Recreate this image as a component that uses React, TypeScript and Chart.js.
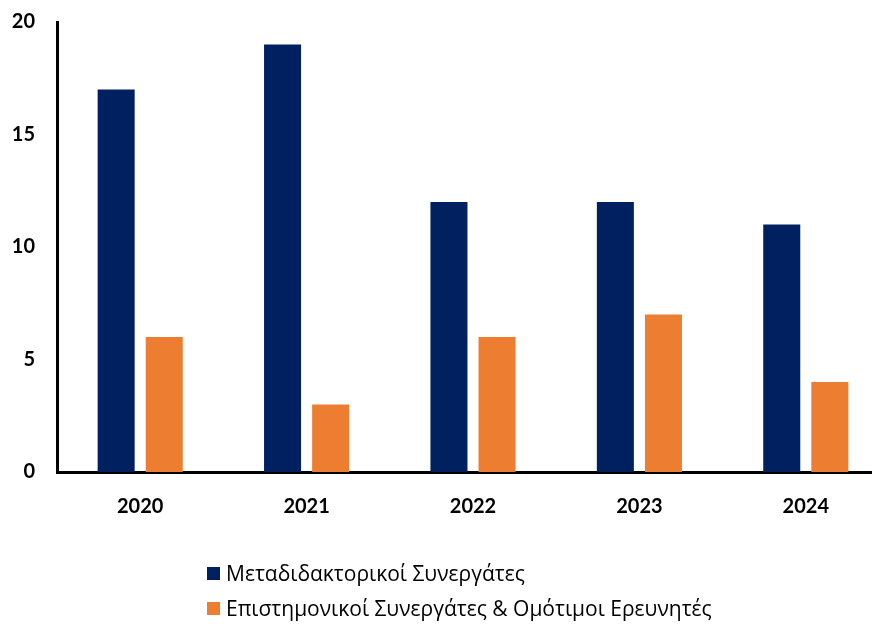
import React, { useEffect, useRef } from "react";
import { Chart, registerables } from "chart.js";

Chart.register(...registerables);

const years = ["2020", "2021", "2022", "2023", "2024"];
const postdocs = [17, 19, 12, 12, 11];
const associates = [6, 3, 6, 7, 4];
const seriesNames = [
  "Μεταδιδακτορικοί Συνεργάτες",
  "Επιστημονικοί Συνεργάτες & Ομότιμοι Ερευνητές",
];
const colors = ["#002060", "#ED7D31"];

export default function App() {
  const ref = useRef<HTMLCanvasElement | null>(null);

  useEffect(() => {
    if (!ref.current) return;
    const chart = new Chart(ref.current, {
      type: "bar",
      data: {
        labels: years,
        datasets: [
          {
            label: seriesNames[0],
            data: postdocs,
            backgroundColor: colors[0],
            categoryPercentage: 0.578,
            barPercentage: 0.77,
          },
          {
            label: seriesNames[1],
            data: associates,
            backgroundColor: colors[1],
            categoryPercentage: 0.578,
            barPercentage: 0.77,
          },
        ],
      },
      options: {
        responsive: false,
        animation: false,
        devicePixelRatio: 1,
        layout: { padding: { top: 22, left: 0, right: 0, bottom: 0 } },
        plugins: {
          legend: { display: false },
          tooltip: { enabled: false },
        },
        scales: {
          x: {
            grid: { display: false, drawTicks: false },
            border: { display: true, color: "#000", width: 3 },
            ticks: {
              color: "#000",
              padding: 23,
              font: { family: "Lato, 'Open Sans', sans-serif", size: 20, weight: "bold" },
            },
            afterFit: (s: any) => {
              s.height = 160;
              s.paddingLeft = 0;
              s.paddingRight = 0;
            },
          },
          y: {
            min: 0,
            max: 20,
            grid: { display: false, drawTicks: false },
            border: { display: true, color: "#000", width: 3 },
            ticks: {
              stepSize: 5,
              color: "#000",
              padding: 22,
              font: { family: "Lato, 'Open Sans', sans-serif", size: 20, weight: "bold" },
            },
            afterFit: (s: any) => {
              s.width = 57;
              s.paddingTop = 0;
              s.paddingBottom = 0;
            },
          },
        },
      },
    });
    return () => chart.destroy();
  }, []);

  const legendFont = "'Open Sans', 'Noto Sans', sans-serif";

  return (
    <div
      style={{
        position: "fixed",
        left: 0,
        top: 0,
        width: 872,
        height: 632,
        overflow: "hidden",
        background: "#fff",
      }}
    >
      <canvas ref={ref} width={889} height={632} style={{ position: "absolute", left: 0, top: 0 }} />
      {seriesNames.map((name, i) => (
        <div
          key={name}
          style={{
            position: "absolute",
            left: 207,
            top: 560 + i * 35,
            height: 26,
            display: "flex",
            alignItems: "center",
            fontFamily: legendFont,
            fontSize: 21,
            color: "#000",
            whiteSpace: "nowrap",
          }}
        >
          <span
            style={{
              display: "inline-block",
              width: 13,
              height: 13,
              background: colors[i],
              marginRight: 6,
            }}
          />
          <span>{name}</span>
        </div>
      ))}
    </div>
  );
}
